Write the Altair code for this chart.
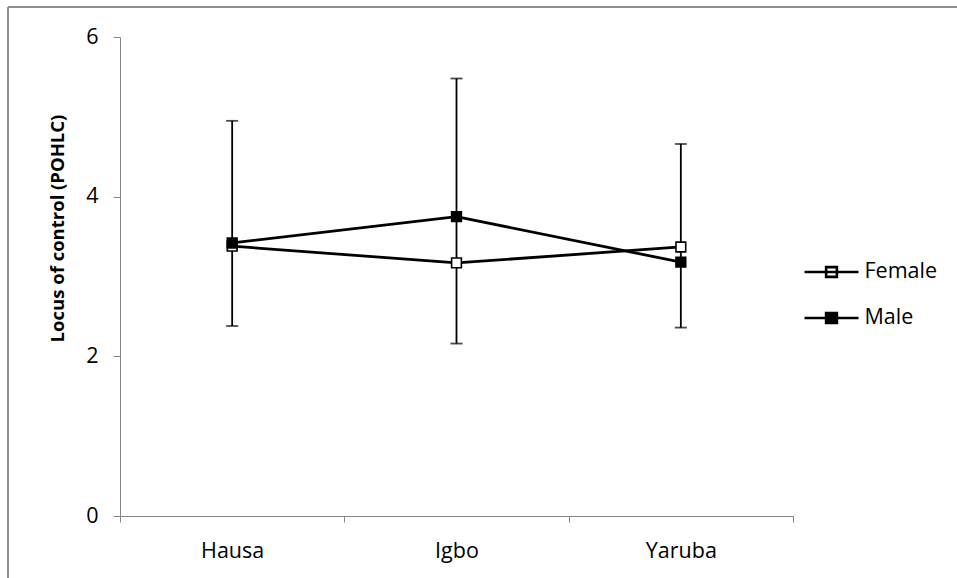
import altair as alt
import pandas as pd

# Mean locus of control (POHLC) by ethnic group and gender
groups = ["Hausa", "Igbo", "Yaruba"]
female_mean = [3.38, 3.17, 3.37]
male_mean = [3.42, 3.75, 3.18]
# Error bar extents per group
err_upper = [4.95, 5.48, 4.66]
err_lower = [2.38, 2.16, 2.36]

means = pd.DataFrame(
    {
        "group": groups * 2,
        "gender": ["Female"] * 3 + ["Male"] * 3,
        "value": female_mean + male_mean,
    }
)
errors = pd.DataFrame({"group": groups, "lo": err_lower, "hi": err_upper})

FONT = "Open Sans"
AXIS_GREY = "#868686"
LABEL_SIZE = 21.5

x_enc = alt.X(
    "group:N",
    sort=groups,
    title=None,
    scale=alt.Scale(paddingInner=0, paddingOuter=0),
    axis=alt.Axis(
        labelAngle=0,
        tickBand="extent",
        domainColor=AXIS_GREY,
        tickColor=AXIS_GREY,
        tickSize=6,
        labelPadding=18,
        labelFont=FONT,
        labelFontSize=LABEL_SIZE,
        labelColor="black",
    ),
)
y_scale = alt.Scale(domain=[0, 6], nice=False)
y_axis = alt.Axis(
    values=[0, 2, 4, 6],
    format="d",
    grid=False,
    domainColor=AXIS_GREY,
    tickColor=AXIS_GREY,
    tickSize=7,
    labelPadding=15,
    labelFont=FONT,
    labelFontSize=LABEL_SIZE,
    labelColor="black",
    title="Locus of control (POHLC)",
    titleFont=FONT,
    titleFontSize=18.5,
    titleFontWeight="bold",
    titleColor="black",
    titleAngle=-90,
    titleBaseline="middle",
    titleAlign="center",
    titleX=-63,
    titleY=191,
)

bars = alt.Chart(errors).mark_rule(color="black", strokeWidth=1.8).encode(
    x=x_enc,
    y=alt.Y("lo:Q", scale=y_scale, axis=y_axis),
    y2="hi:Q",
)
caps_hi = alt.Chart(errors).mark_tick(color="black", thickness=1.8, size=12).encode(
    x=x_enc, y=alt.Y("hi:Q", scale=y_scale)
)
caps_lo = alt.Chart(errors).mark_tick(color="black", thickness=1.8, size=12).encode(
    x=x_enc, y=alt.Y("lo:Q", scale=y_scale)
)

lines = alt.Chart(means).mark_line(color="black", strokeWidth=2.8).encode(
    x=x_enc,
    y=alt.Y("value:Q", scale=y_scale),
    detail="gender:N",
    order=alt.Order("gender:N"),
)

legend_symbol = "M-2,0H2M-0.4,-0.36H0.4V0.36H-0.4Z"
points = alt.Chart(means).mark_point(
    shape="square", filled=True, size=95, stroke="black", strokeWidth=1.6, opacity=1
).encode(
    x=x_enc,
    y=alt.Y("value:Q", scale=y_scale),
    fill=alt.Fill(
        "gender:N",
        scale=alt.Scale(domain=["Female", "Male"], range=["white", "black"]),
        legend=alt.Legend(
            title=None,
            orient="none",
            legendX=696.5,
            legendY=220,
            padding=0,
            symbolType=legend_symbol,
            symbolSize=729,
            symbolStrokeColor="black",
            symbolStrokeWidth=2.6,
            symbolOpacity=1,
            labelOffset=18,
            labelFont=FONT,
            labelFontSize=LABEL_SIZE,
            labelColor="black",
            rowPadding=20,
        ),
    ),
    order=alt.Order("gender:N"),
)

# Outer chart frame (left and top edges)
frame_left = alt.Chart(errors).mark_rule(color="#8c8c8c", strokeWidth=1.5).encode(
    x=alt.value(-112), y=alt.value(-30), y2=alt.value(560)
)
frame_top = alt.Chart(errors).mark_rule(color="#8c8c8c", strokeWidth=1.5).encode(
    x=alt.value(-112), x2=alt.value(850), y=alt.value(-30)
)

chart = (
    alt.layer(frame_left, frame_top, bars, caps_hi, caps_lo, lines, points)
    .properties(
        width=673,
        height=479,
        padding={"left": 120, "top": 37, "right": 164, "bottom": 62},
        autosize=alt.AutoSizeParams(type="none"),
        background="white",
    )
    .configure_view(stroke=None)
)

chart.save("out.html", embed_options={"renderer": "svg", "actions": False})
